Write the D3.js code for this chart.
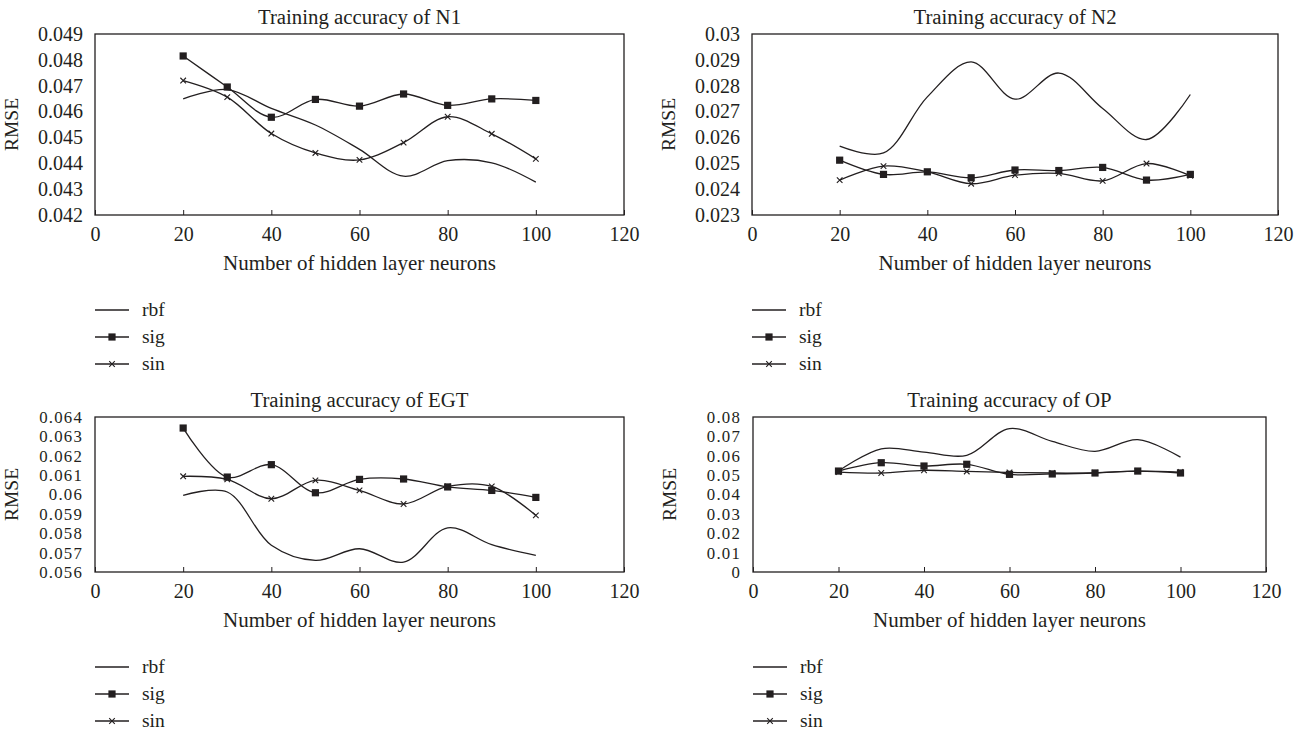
<!DOCTYPE html>
<html>
<head>
<meta charset="utf-8">
<script src="https://cdn.jsdelivr.net/npm/d3@7"></script>
<style>
  html, body { margin: 0; padding: 0; background: #fff; }
  svg { display: block; }
  text { font-family: "Liberation Serif", "DejaVu Serif", serif; fill: #231f20; }
</style>
</head>
<body>
<svg id="chart" width="1306" height="731"></svg>
<script>
// Number of hidden layer neurons (x values shared by every series)
const neurons = [20, 30, 40, 50, 60, 70, 80, 90, 100];
const xTicks = [0, 20, 40, 60, 80, 100, 120];
const seriesNames = ["rbf", "sig", "sin"];

// N1 RMSE
const n1Rbf = [0.04649, 0.04685, 0.04612, 0.04548, 0.04454, 0.04350, 0.04410, 0.04402, 0.04327];
const n1Sig = [0.04815, 0.04695, 0.04578, 0.04647, 0.04621, 0.04668, 0.04624, 0.04649, 0.04643];
const n1Sin = [0.04720, 0.04656, 0.04515, 0.04440, 0.04413, 0.04480, 0.04580, 0.04514, 0.04417];
const n1Ticks = [0.042, 0.043, 0.044, 0.045, 0.046, 0.047, 0.048, 0.049];

// N2 RMSE
const n2Rbf = [0.02566, 0.02540, 0.02757, 0.02892, 0.02748, 0.02849, 0.02712, 0.02592, 0.02766];
const n2Sig = [0.02512, 0.02457, 0.02467, 0.02444, 0.02474, 0.02472, 0.02484, 0.02435, 0.02457];
const n2Sin = [0.02435, 0.02489, 0.02467, 0.02421, 0.02454, 0.02461, 0.02432, 0.02499, 0.02452];
const n2Ticks = [0.023, 0.024, 0.025, 0.026, 0.027, 0.028, 0.029, 0.030];

// EGT RMSE
const egtRbf = [0.05996, 0.06013, 0.05738, 0.05660, 0.05720, 0.05651, 0.05828, 0.05741, 0.05686];
const egtSig = [0.06343, 0.06090, 0.06154, 0.06009, 0.06078, 0.06080, 0.06039, 0.06021, 0.05985];
const egtSin = [0.06094, 0.06078, 0.05978, 0.06073, 0.06021, 0.05951, 0.06042, 0.06042, 0.05892];
const egtTicks = [0.056, 0.057, 0.058, 0.059, 0.060, 0.061, 0.062, 0.063, 0.064];

// OP RMSE
const opRbf = [0.0521, 0.0636, 0.0619, 0.0602, 0.0740, 0.0674, 0.0623, 0.0683, 0.0593];
const opSig = [0.0521, 0.0564, 0.0547, 0.0556, 0.0504, 0.0506, 0.0511, 0.0521, 0.0511];
const opSin = [0.0516, 0.0511, 0.0525, 0.0519, 0.0514, 0.0511, 0.0512, 0.0521, 0.0516];
const opTicks = [0, 0.01, 0.02, 0.03, 0.04, 0.05, 0.06, 0.07, 0.08];

// Panel layout (pixel frame of each plot area, its legend, y tick label size)
const panels = [
  { title: "Training accuracy of N1", series: [n1Rbf, n1Sig, n1Sin], ticks: n1Ticks,
    left: 95, right: 624, top: 34, bottom: 215, legX: 95, legY: 310, tickFont: 20, tickSpace: 0 },
  { title: "Training accuracy of N2", series: [n2Rbf, n2Sig, n2Sin], ticks: n2Ticks,
    left: 752, right: 1278, top: 34, bottom: 215, legX: 752, legY: 310, tickFont: 20, tickSpace: 0 },
  { title: "Training accuracy of EGT", series: [egtRbf, egtSig, egtSin], ticks: egtTicks,
    left: 95, right: 624, top: 417, bottom: 572, legX: 95, legY: 667, tickFont: 16.8, tickSpace: 1.2 },
  { title: "Training accuracy of OP", series: [opRbf, opSig, opSin], ticks: opTicks,
    left: 753, right: 1266, top: 417, bottom: 572, legX: 753, legY: 667, tickFont: 16.8, tickSpace: 1.2 }
];

const ink = "#231f20";
const svg = d3.select("#chart");
const fmt = v => String(+v.toFixed(3));

function drawMarker(g, kind, x, y) {
  if (kind === "sig") {
    g.append("rect").attr("x", x - 3.6).attr("y", y - 3.6)
      .attr("width", 7.2).attr("height", 7.2).attr("fill", ink);
  } else if (kind === "sin") {
    const s = 2.8;
    g.append("path")
      .attr("d", `M${x - s},${y - s}L${x + s},${y + s}M${x - s},${y + s}L${x + s},${y - s}`)
      .attr("stroke", ink).attr("stroke-width", 1.1).attr("fill", "none");
  }
}

panels.forEach(p => {
  const g = svg.append("g");
  const x = d3.scaleLinear().domain([0, 120]).range([p.left, p.right]);
  const y = d3.scaleLinear().domain(d3.extent(p.ticks)).range([p.bottom, p.top]);

  // plot frame
  g.append("rect")
    .attr("x", p.left).attr("y", p.top)
    .attr("width", p.right - p.left).attr("height", p.bottom - p.top)
    .attr("fill", "none").attr("stroke", ink).attr("stroke-width", 1.3);

  // x axis: inward ticks, labels below
  const xAxis = g.append("g").attr("transform", `translate(0,${p.bottom})`)
    .call(d3.axisBottom(x).tickValues(xTicks).tickSizeInner(-5).tickSizeOuter(0).tickPadding(12));
  xAxis.select(".domain").remove();
  xAxis.selectAll("line").attr("stroke", ink).attr("stroke-width", 1);
  xAxis.selectAll("text").attr("font-size", 20).attr("font-family", "Liberation Serif").attr("fill", ink);

  // y axis: labels only
  const yAxis = g.append("g").attr("transform", `translate(${p.left},0)`)
    .call(d3.axisLeft(y).tickValues(p.ticks).tickFormat(fmt).tickSize(0).tickPadding(12));
  yAxis.select(".domain").remove();
  yAxis.selectAll("text").attr("font-size", p.tickFont).attr("letter-spacing", p.tickSpace)
    .attr("font-family", "Liberation Serif").attr("fill", ink);

  // titles
  const cx = (p.left + p.right) / 2;
  g.append("text").attr("x", cx).attr("y", p.top - 10)
    .attr("text-anchor", "middle").attr("font-size", 20.8).text(p.title);
  g.append("text").attr("x", cx).attr("y", p.bottom + 55)
    .attr("text-anchor", "middle").attr("font-size", 21).text("Number of hidden layer neurons");
  g.append("text")
    .attr("transform", `translate(${p.left - 77},${(p.top + p.bottom) / 2}) rotate(-90)`)
    .attr("text-anchor", "middle").attr("font-size", 19.5).text("RMSE");

  // series
  const line = d3.line().x(d => x(d[0])).y(d => y(d[1])).curve(d3.curveCatmullRom.alpha(0.5));
  p.series.forEach((vals, i) => {
    const pts = neurons.map((n, k) => [n, vals[k]]);
    g.append("path").datum(pts).attr("d", line)
      .attr("fill", "none").attr("stroke", ink).attr("stroke-width", 1.3);
    pts.forEach(d => drawMarker(g, seriesNames[i], x(d[0]), y(d[1])));
  });

  // legend
  seriesNames.forEach((name, i) => {
    const ly = p.legY + i * 27;
    g.append("line").attr("x1", p.legX).attr("x2", p.legX + 34)
      .attr("y1", ly).attr("y2", ly).attr("stroke", ink).attr("stroke-width", 1.3);
    drawMarker(g, name, p.legX + 17, ly);
    g.append("text").attr("x", p.legX + 47).attr("y", ly + 6)
      .attr("font-size", 19.5).text(name);
  });
});
</script>
</body>
</html>
